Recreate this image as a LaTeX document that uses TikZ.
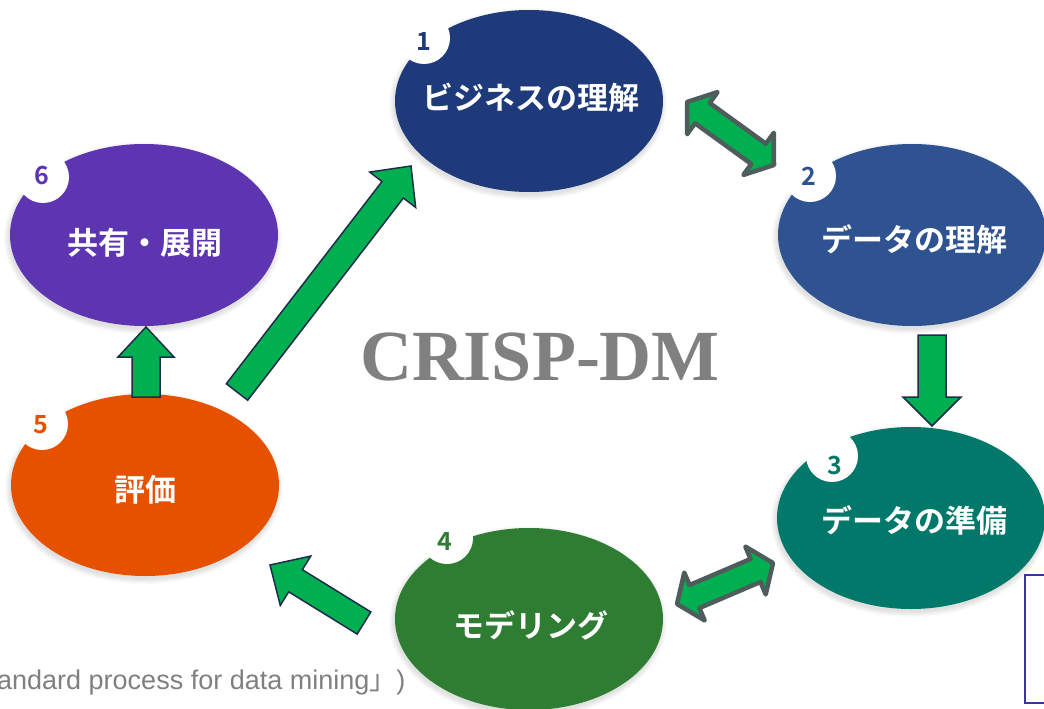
\documentclass[tikz,border=0pt]{standalone}
\usepackage{fontspec}
\setmainfont{Liberation Sans}
\newfontfamily\jp{Noto Sans CJK JP}[BoldFont={Noto Sans CJK JP Bold}]
\newfontfamily\tms{Liberation Serif}
\usetikzlibrary{shapes.geometric,calc}
\definecolor{cOne}{HTML}{1F3A7A}
\definecolor{cTwo}{HTML}{2F5291}
\definecolor{cThree}{HTML}{01786A}
\definecolor{cFour}{HTML}{2E7D32}
\definecolor{cFive}{HTML}{E65100}
\definecolor{cSix}{HTML}{5E35B1}
\definecolor{arrGreen}{HTML}{00B050}
\definecolor{arrNavy}{HTML}{1C2B4E}
\definecolor{arrGray}{HTML}{4E5C5C}
\definecolor{boxBlue}{HTML}{3A33A3}
\definecolor{txtGray}{HTML}{808080}
\newcommand\myblkarrow[6]{%
  \coordinate (#2-h) at ($(#3)!#6!(#2)$);
  \draw[#1] ($(#2)!#4!90:(#3)$) -- ($(#2-h)!#4!90:(#3)$) -- ($(#2-h)!#5!90:(#3)$)
    -- (#3) -- ($(#2-h)!#5!-90:(#3)$) -- ($(#2-h)!#4!-90:(#3)$) -- ($(#2)!#4!-90:(#3)$) -- cycle;}
\newcommand\mydblarrow[6]{%
  \coordinate (#2-h) at ($(#2)!#6!(#3)$);
  \coordinate (#3-h) at ($(#3)!#6!(#2)$);
  \draw[#1] (#2) -- ($(#2-h)!#5!90:(#3)$) -- ($(#2-h)!#4!90:(#3)$)
    -- ($(#3-h)!#4!-90:(#2)$) -- ($(#3-h)!#5!-90:(#2)$) -- (#3)
    -- ($(#3-h)!#5!90:(#2)$) -- ($(#3-h)!#4!90:(#2)$)
    -- ($(#2-h)!#4!-90:(#3)$) -- ($(#2-h)!#5!-90:(#3)$) -- cycle;}
\begin{document}
\begin{tikzpicture}[x=1pt,y=-1pt,
  phase/.style={ellipse, fill=#1, minimum width=268pt, minimum height=182pt, inner sep=0pt},
  phasetxt/.style={font=\jp\bfseries\fontsize{31}{31}\selectfont, text=white, inner sep=0pt},
  numdisc/.style={circle, fill=white, minimum size=52pt, inner sep=0pt},
  numtxt/.style={font=\jp\bfseries\fontsize{25}{25}\selectfont, text=#1, inner sep=0pt},
  onearrow/.style={fill=arrGreen, draw=arrNavy, line width=1.5pt, line join=miter},
  twoarrow/.style={fill=arrGreen, draw=arrGray, line width=4.5pt, line join=round}]
\useasboundingbox (0,0) rectangle (1044,709);
\clip (0,0) rectangle (1044,709);
\fill[white] (0,0) rectangle (1044,709);
% centres
\coordinate (c1) at (529,101);
\coordinate (c2) at (912,235);
\coordinate (c3) at (911,518);
\coordinate (c4) at (529,619);
\coordinate (c5) at (145,485);
\coordinate (c6) at (144,235);
% soft shadows
\foreach \c in {c1,c2,c3,c4,c5,c6}{
  \foreach \k in {1,...,6}{
    \fill[black, opacity=0.018] ($(\c)+(-1,3)$) ellipse [x radius={(133+\k)*1pt}, y radius={(90+\k)*1pt}];
  }
}
% ellipses
\node[phase=cOne]   (e1) at (c1) {};
\node[phase=cTwo]   (e2) at (c2) {};
\node[phase=cThree] (e3) at (c3) {};
\node[phase=cFour]  (e4) at (c4) {};
\node[phase=cFive]  (e5) at (c5) {};
\node[phase=cSix]   (e6) at (c6) {};
% number discs
\node[numdisc] (d1) at (424,38) {};
\node[numdisc] (d2) at (810,176) {};
\node[numdisc] (d3) at (832,456) {};
\node[numdisc] (d4) at (447,538) {};
\node[numdisc] (d5) at (42,424) {};
\node[numdisc] (d6) at (43,177) {};
\node[numtxt=cOne]   (n1) at (424,41) {1};
\node[numtxt=cTwo]   (n2) at (809,176) {2};
\node[numtxt=cThree] (n3) at (835,465) {3};
\node[numtxt=cFour]  (n4) at (445,541) {4};
\node[numtxt=cFive]  (n5) at (41,425) {5};
\node[numtxt=cSix]   (n6) at (42,175) {6};
% labels
\node[phasetxt] (t1) at (531,98) {ビジネスの理解};
\node[phasetxt] (t2) at (914,239) {データの理解};
\node[phasetxt] (t3) at (914,520) {データの準備};
\node[phasetxt] (t4) at (531,625) {モデリング};
\node[phasetxt] (t5) at (145,490) {評価};
\node[phasetxt] (t6) at (145,243) {共有・展開};
% title
\node[font=\tms\bfseries\fontsize{72}{72}\selectfont, text=txtGray, inner sep=0pt] (title) at (540,357) {CRISP-DM};
% arrow end points
\coordinate (a56s) at (146,397); \coordinate (a56e) at (146,327);
\coordinate (a23s) at (932,335); \coordinate (a23e) at (932,426);
\coordinate (a51s) at (237,392); \coordinate (a51e) at (411,166);
\coordinate (a45s) at (364,623); \coordinate (a45e) at (270,565);
\coordinate (d12a) at (687,102); \coordinate (d12b) at (774,165);
\coordinate (d34a) at (677,604); \coordinate (d34b) at (773,563);
\myblkarrow{onearrow}{a56s}{a56e}{14pt}{28pt}{30pt}
\myblkarrow{onearrow}{a23s}{a23e}{14pt}{29pt}{29pt}
\myblkarrow{onearrow}{a51s}{a51e}{13.5pt}{29pt}{30pt}
\myblkarrow{onearrow}{a45s}{a45e}{13pt}{29pt}{30pt}
\mydblarrow{twoarrow}{d12a}{d12b}{12.5pt}{26pt}{19pt}
\mydblarrow{twoarrow}{d34a}{d34b}{12.5pt}{26pt}{19pt}
% source text (cut at the left edge)
\node[anchor=base west, inner sep=0pt, font=\fontsize{27}{27}\selectfont, text=txtGray] (src) at (-3,689) {andard process for data mining{\jp 」})};
% box at the right edge
\draw[boxBlue, line width=2.5pt] (1025,575) rectangle (1070,703);
\end{tikzpicture}
\end{document}
